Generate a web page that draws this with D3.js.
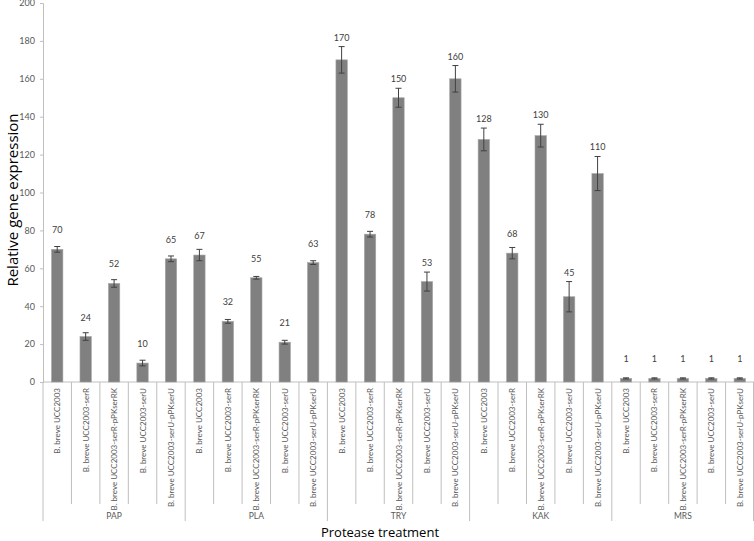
<!DOCTYPE html>
<html>
<head>
<meta charset="utf-8">
<script src="https://cdn.jsdelivr.net/npm/d3@7"></script>
<style>
  body { margin: 0; background: #fff; }
  svg { display: block; }
</style>
</head>
<body>
<div id="chart"></div>
<script>
// data
var treatments = ["PAP", "PLA", "TRY", "KAK", "MRS"];
var strains = ["B. breve UCC2003", "B. breve UCC2003-serR", "B. breve UCC2003-serR-pPKserRK",
  "B. breve UCC2003-serU", "B. breve UCC2003-serU-pPKserU"];
var expression = [70, 24, 52, 10, 65,
  67, 32, 55, 21, 63,
  170, 78, 150, 53, 160,
  128, 68, 130, 45, 110,
  1.9, 1.9, 1.9, 1.9, 1.9];
var errors = [1.5, 2, 2, 1.5, 1.5,
  3, 1, 0.7, 1, 1,
  7, 1.5, 5, 5, 7,
  6, 3, 6, 8, 9,
  0.3, 0.3, 0.3, 0.3, 0.3];
var valueLabels = ["70", "24", "52", "10", "65",
  "67", "32", "55", "21", "63",
  "170", "78", "150", "53", "160",
  "128", "68", "130", "45", "110",
  "1", "1", "1", "1", "1"];
var yTicks = [0, 20, 40, 60, 80, 100, 120, 140, 160, 180, 200];

var svgWidth = 754;
var svgHeight = 541;
var margin = { top: 3, right: 0, bottom: 159, left: 43 };
var width = svgWidth - margin.left - margin.right;
var height = svgHeight - margin.top - margin.bottom;

var rows = [];
treatments.forEach((t, i) => {
  strains.forEach((s, j) => {
    var k = i * strains.length + j;
    rows.push({ key: t + "|" + s, treatment: t, strain: s, value: expression[k], err: errors[k], label: valueLabels[k] });
  });
});

var svg = d3.select("#chart")
  .append("svg")
  .attr("width", svgWidth)
  .attr("height", svgHeight)
  .style("font-family", "Lato, 'Open Sans', sans-serif");

var chartGroup = svg.append("g")
  .attr("transform", `translate(${margin.left}, ${margin.top})`);

var xScale = d3.scaleBand()
  .domain(rows.map(d => d.key))
  .range([0, width])
  .paddingInner(0.6)
  .paddingOuter(0.3);

var yScale = d3.scaleLinear()
  .domain([0, 200])
  .range([height, 0]);

// y axis
var leftAxis = d3.axisLeft(yScale).tickValues(yTicks).tickSize(3).tickPadding(5);
var yAxis = chartGroup.append("g").call(leftAxis);
yAxis.select(".domain").attr("stroke", "#bfbfbf");
yAxis.selectAll(".tick line").attr("stroke", "#bfbfbf");
yAxis.selectAll(".tick text")
  .attr("fill", "#595959")
  .style("font-size", "9px")
  .style("font-family", "Lato, sans-serif");

// x axis line and category dividers
var step = xScale.step();
var catStart = i => xScale(rows[i].key) + xScale.bandwidth() / 2 - step / 2;

chartGroup.append("line")
  .attr("x1", 0).attr("x2", width)
  .attr("y1", height).attr("y2", height)
  .attr("stroke", "#bfbfbf");

rows.forEach((d, i) => {
  var big = i % strains.length === 0;
  chartGroup.append("line")
    .attr("x1", catStart(i)).attr("x2", catStart(i))
    .attr("y1", height).attr("y2", height + (big ? 139 : 122))
    .attr("stroke", "#bfbfbf");
});
chartGroup.append("line")
  .attr("x1", width - 0.5).attr("x2", width - 0.5)
  .attr("y1", height).attr("y2", height + 139)
  .attr("stroke", "#bfbfbf");

// strain labels
chartGroup.selectAll(".strainLabel")
  .data(rows)
  .enter()
  .append("text")
  .attr("class", "strainLabel")
  .attr("transform", d => `translate(${xScale(d.key) + xScale.bandwidth() / 2 + 3}, ${height + 6}) rotate(-90)`)
  .style("text-anchor", "end")
  .style("font-size", "8px")
  .attr("fill", "#595959")
  .text(d => d.strain);

// treatment labels
treatments.forEach((t, i) => {
  var a = catStart(i * strains.length);
  var b = i < treatments.length - 1 ? catStart((i + 1) * strains.length) : width;
  chartGroup.append("text")
    .attr("x", (a + b) / 2)
    .attr("y", height + 137)
    .style("text-anchor", "middle")
    .style("font-size", "8.5px")
    .attr("fill", "#595959")
    .text(t);
});

// bars
chartGroup.selectAll(".bar")
  .data(rows)
  .enter()
  .append("rect")
  .attr("class", "bar")
  .attr("x", d => xScale(d.key))
  .attr("y", d => yScale(d.value))
  .attr("width", xScale.bandwidth())
  .attr("height", d => height - yScale(d.value))
  .attr("fill", "#808080")
  .attr("stroke", "#a6a6a6")
  .attr("stroke-width", 0.6);

// error bars
var errGroup = chartGroup.selectAll(".err")
  .data(rows)
  .enter()
  .append("g")
  .attr("class", "err")
  .attr("stroke", "#404040")
  .attr("stroke-width", 1);

errGroup.append("line")
  .attr("x1", d => xScale(d.key) + xScale.bandwidth() / 2)
  .attr("x2", d => xScale(d.key) + xScale.bandwidth() / 2)
  .attr("y1", d => yScale(d.value + d.err))
  .attr("y2", d => yScale(d.value - d.err));

[1, -1].forEach(sign => {
  errGroup.append("line")
    .attr("x1", d => xScale(d.key) + xScale.bandwidth() / 2 - 3)
    .attr("x2", d => xScale(d.key) + xScale.bandwidth() / 2 + 3)
    .attr("y1", d => yScale(d.value + sign * d.err))
    .attr("y2", d => yScale(d.value + sign * d.err));
});

// value labels
chartGroup.selectAll(".valLabel")
  .data(rows)
  .enter()
  .append("text")
  .attr("class", "valLabel")
  .attr("x", d => xScale(d.key) + xScale.bandwidth() / 2)
  .attr("y", d => Math.min(yScale(d.value) - 16, yScale(d.value + d.err) - 6))
  .style("text-anchor", "middle")
  .style("font-size", "9px")
  .attr("fill", "#404040")
  .text(d => d.label);

// axis titles
svg.append("text")
  .attr("transform", `translate(18, 200) rotate(-90)`)
  .style("text-anchor", "middle")
  .style("font-size", "15px")
  .style("font-family", "'Open Sans', sans-serif")
  .attr("fill", "#000")
  .text("Relative gene expression");

svg.append("text")
  .attr("x", 380)
  .attr("y", 537)
  .style("text-anchor", "middle")
  .style("font-size", "13px")
  .style("font-family", "'Open Sans', sans-serif")
  .attr("fill", "#000")
  .text("Protease treatment");
</script>
</body>
</html>
